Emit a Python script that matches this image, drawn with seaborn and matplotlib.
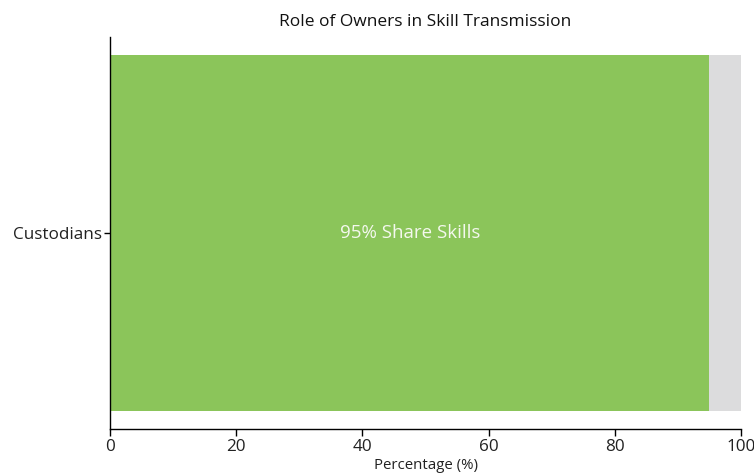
import matplotlib
matplotlib.use("Agg")
import matplotlib.pyplot as plt
import seaborn as sns
import pandas as pd

# Survey result: share of custodians who pass on their skills
groups = ["Custodians"]
share_skills = [95]
remainder = [5]
bar_label = "95% Share Skills"

sns.set_theme(style="white")
plt.rcParams["font.family"] = ["Open Sans", "DejaVu Sans"]

df = pd.DataFrame({
    "group": groups,
    "share": share_skills,
    "total": [s + r for s, r in zip(share_skills, remainder)],
})

fig = plt.figure(figsize=(7.54, 4.75), dpi=100)
ax = fig.add_axes([0.1459, 0.0968, 0.8369, 0.8252])

# Grey background for the full 100%, then the green share on top
sns.barplot(data=df, x="total", y="group", orient="h", color="#dcdcdd",
            width=0.91, saturation=1, linewidth=0, ax=ax)
sns.barplot(data=df, x="share", y="group", orient="h", color="#8bc55a",
            width=0.91, saturation=1, linewidth=0, ax=ax)

for i, v in enumerate(share_skills):
    ax.text(v / 2, i, bar_label, ha="center", va="center",
            color="#f4f8ee", fontsize=13.5)

ax.set_xlim(0, 100)
ax.set_ylim(0.5, -0.5)
ax.set_xticks([0, 20, 40, 60, 80, 100])
ax.set_xlabel("Percentage (%)", fontsize=10.8, color="#222222", labelpad=2)
ax.set_ylabel("")
ax.set_title("Role of Owners in Skill Transmission", fontsize=12.5,
             color="#111111", pad=8)

for side in ("top", "right"):
    ax.spines[side].set_visible(False)
for side in ("left", "bottom"):
    ax.spines[side].set_color("black")
    ax.spines[side].set_linewidth(1.0)

ax.tick_params(axis="x", which="major", bottom=True, length=5, width=1,
               labelsize=12.3, colors="black", labelcolor="#222222", pad=2)
ax.tick_params(axis="y", which="major", left=True, length=4, width=1,
               labelsize=12.3, colors="black", labelcolor="#222222", pad=2)

fig.savefig("out.png", dpi=100)
